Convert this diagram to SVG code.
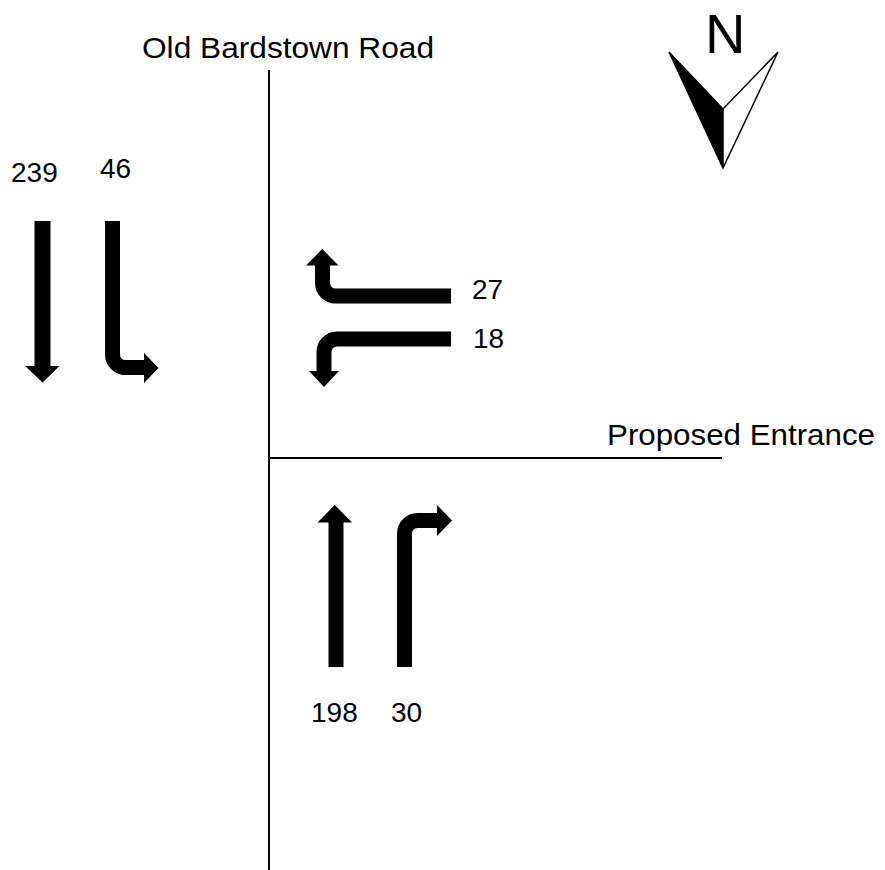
<svg xmlns="http://www.w3.org/2000/svg" width="885" height="870" viewBox="0 0 885 870">
<style>
.road{stroke:#000;stroke-width:2;fill:none}
.lbl{font-family:"Liberation Sans",Arial,sans-serif;font-size:29px;fill:#000}
.num{font-family:"Liberation Sans",Arial,sans-serif;font-size:28px;fill:#000}
.shaft{stroke:#000;stroke-width:15;fill:none;stroke-linecap:butt}
.head{fill:#000}
</style>
<rect width="885" height="870" fill="#fff"/>
<g id="roads">
<line class="road" x1="269" y1="70" x2="269" y2="870"/>
<line class="road" x1="268" y1="458" x2="722" y2="458"/>
<text class="lbl" x="142" y="58" textLength="292" lengthAdjust="spacingAndGlyphs">Old Bardstown Road</text>
<text class="lbl" x="607" y="445" textLength="268" lengthAdjust="spacingAndGlyphs">Proposed Entrance</text>
</g>
<g id="north">
<text x="705" y="53" font-family="Liberation Sans,Arial,sans-serif" font-size="56">N</text>
<polygon points="669,52 723,109 723,168" fill="#000"/>
<polygon points="669,52 723,109 778,52 723,168" fill="none" stroke="#000" stroke-width="1.5" stroke-linejoin="miter"/>
<line x1="723" y1="109" x2="723" y2="168" stroke="#000" stroke-width="1.5"/>
</g>
<g id="connectors">
<g id="sb-through">
<path class="shaft" d="M42.5,221 V366.5" style="stroke-width:16"/>
<polygon class="head" points="25,366 59.5,366 42.5,382.5"/>
</g>
<g id="sb-left">
<path class="shaft" d="M112.5,221 V354.5 A13,13 0 0 0 125.5,367.5 H144.5"/>
<polygon class="head" points="144,353 144,383 158.5,368"/>
</g>
<g id="wb-right">
<path class="shaft" d="M451,296 H335.5 A13,13 0 0 1 322.5,283 V265"/>
<polygon class="head" points="306,265.5 338.5,265.5 322.3,249"/>
</g>
<g id="wb-left">
<path class="shaft" d="M451,339 H337 A13,13 0 0 0 324,352 V371.5"/>
<polygon class="head" points="309,371 339,371 324,387"/>
</g>
<g id="nb-through">
<path class="shaft" d="M336,667 V522" style="stroke-width:15"/>
<polygon class="head" points="317.5,522.5 352,522.5 334.8,505"/>
</g>
<g id="nb-right">
<path class="shaft" d="M404.5,667 V533.5 A13,13 0 0 1 417.5,520.5 H437.5"/>
<polygon class="head" points="437,505 437,536 452,520.5"/>
</g>
</g>
<g id="volumes">
<text class="num" x="11" y="182">239</text>
<text class="num" x="100" y="178">46</text>
<text class="num" x="472" y="299">27</text>
<text class="num" x="473" y="348">18</text>
<text class="num" x="311" y="722">198</text>
<text class="num" x="391" y="722">30</text>
</g>
</svg>
